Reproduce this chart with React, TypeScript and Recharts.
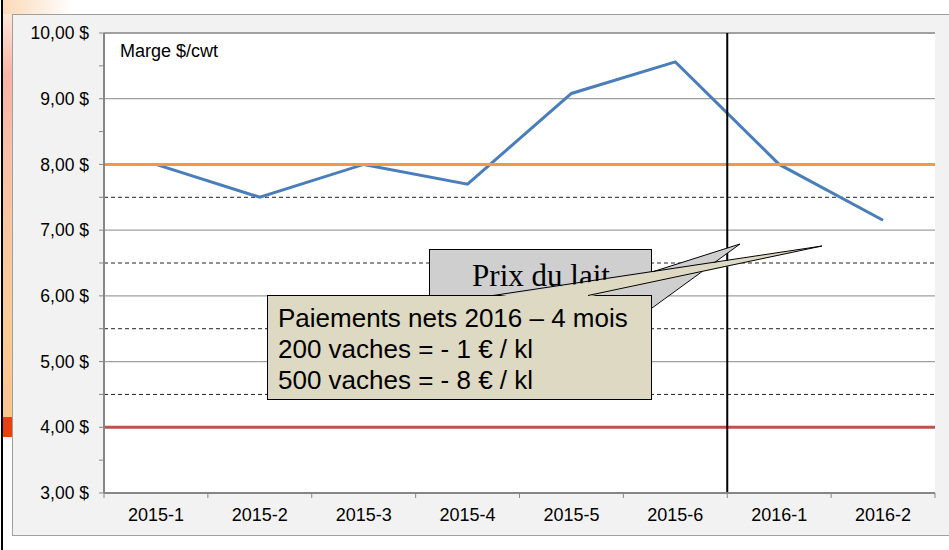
import React from "react";
import { CartesianGrid, Line, LineChart, ReferenceLine, XAxis, YAxis } from "recharts";

const categories = ["2015-1", "2015-2", "2015-3", "2015-4", "2015-5", "2015-6", "2016-1", "2016-2"];
const marge = [8.0, 7.5, 8.0, 7.7, 9.08, 9.56, 8.0, 7.15];
const yTicks = [3, 3.5, 4, 4.5, 5, 5.5, 6, 6.5, 7, 7.5, 8, 8.5, 9, 9.5, 10];
const gridLevels = [5, 6, 7, 9, 10];
const dashedLevels = [4.5, 5.5, 6.5, 7.5];
const orangeLevel = 8;
const redLevel = 4;
const splitAfter = "2015-6";
const calloutLines = ["Paiements nets 2016 – 4 mois", "200 vaches = - 1 € / kl", "500 vaches = - 8 € / kl"];

const data = categories.map((cat, i) => ({ cat, marge: marge[i] }));

const W = 949;
const H = 550;
const margin = { top: 33, right: 14, bottom: 27, left: 0 };
const yAxisWidth = 104;
const band = (W - margin.right - margin.left - yAxisWidth) / categories.length;
const font = "'Liberation Sans', Arial, sans-serif";

function CategoryTick(props: any) {
  const { x, y, payload, index } = props;
  const last = index === categories.length - 1;
  return (
    <g>
      <line x1={x - band / 2} x2={x - band / 2} y1={y} y2={y + 5} stroke="#868686" />
      {last && <line x1={x + band / 2} x2={x + band / 2} y1={y} y2={y + 5} stroke="#868686" />}
      <text x={x} y={y + 28} textAnchor="middle" fontSize={18} fontFamily={font} fill="#000">
        {payload.value}
      </text>
    </g>
  );
}

const fmt = (v: number) => (Number.isInteger(v) ? `${v.toFixed(2).replace(".", ",")} $` : "");

export default function App() {
  return (
    <div style={{ position: "absolute", left: 0, top: 0, width: W, height: H, background: "#fff", overflow: "hidden" }}>
      {/* slide decoration on the left */}
      <div style={{ position: "absolute", left: 1, top: 0, width: 2, height: H, background: "#000" }} />
      <div
        style={{
          position: "absolute", left: 3, top: 0, width: 9, height: 417,
          background: "linear-gradient(to bottom, #fff1e6 0%, #f7b4a4 18%, #f6c2a8 40%, #f8cc98 75%, #f9c58a 100%)",
        }}
      />
      <div style={{ position: "absolute", left: 3, top: 417, width: 9, height: 20, background: "#e8400f" }} />
      <div
        style={{
          position: "absolute", left: 3, top: 0, width: 70, height: 14,
          background: "linear-gradient(to right, #fbd9b8, #ffffff)",
        }}
      />
      {/* chart frame */}
      <div
        style={{
          position: "absolute", left: 12, top: 14, width: 945, height: 520,
          background: "#f2f2f2", border: "1px solid #a0a0a0",
        }}
      />
      <div style={{ position: "absolute", left: 0, top: 0 }}>
        <LineChart width={W} height={H} data={data} margin={margin}>
          <CartesianGrid horizontal={false} vertical={false} fill="#ffffff" />
          <XAxis
            dataKey="cat"
            scale="band"
            interval={0}
            height={30}
            tickSize={0}
            tickMargin={0}
            tickLine={false}
            tick={<CategoryTick />}
            axisLine={{ stroke: "#868686", strokeWidth: 2 }}
          />
          <YAxis
            type="number"
            domain={[3, 10]}
            ticks={yTicks}
            interval={0}
            width={yAxisWidth}
            tickFormatter={fmt}
            tickSize={5}
            tickMargin={10}
            tick={{ fontSize: 17.5, fontFamily: font, fill: "#000" }}
            tickLine={{ stroke: "#868686" }}
            axisLine={{ stroke: "#868686", strokeWidth: 2 }}
          />
          {gridLevels.map((v) => (
            <ReferenceLine key={`g${v}`} y={v} stroke="#a0a0a0" strokeWidth={v === 10 ? 2 : 1.2} />
          ))}
          {dashedLevels.map((v) => (
            <ReferenceLine key={`d${v}`} y={v} stroke="#222" strokeWidth={1} strokeDasharray="4 3" />
          ))}
          <Line
            type="linear"
            dataKey="marge"
            stroke="#4a7ebb"
            strokeWidth={3}
            dot={false}
            isAnimationActive={false}
          />
          <ReferenceLine y={orangeLevel} stroke="#f79646" strokeWidth={3} />
          <ReferenceLine y={redLevel} stroke="#c0504d" strokeWidth={3} />
          <ReferenceLine x={splitAfter} position="end" stroke="#000" strokeWidth={2} />
        </LineChart>
      </div>
      {/* annotations */}
      <svg width={W} height={H} style={{ position: "absolute", left: 0, top: 0, pointerEvents: "none" }}>
        <text x={120} y={57} fontSize={18} fontFamily={font} fill="#000">Marge $/cwt</text>
        <rect x={429.5} y={249.5} width={222} height={62} fill="#cfcfcf" stroke="#000" />
        <text x={541} y={286} textAnchor="middle" fontSize={31} fontFamily="'Liberation Serif', 'Times New Roman', serif" fill="#000">
          Prix du lait
        </text>
        <polygon points="651,272 740,244 651,308" fill="#cfcfcf" />
        <polyline points="652,272 740,244 652,308" fill="none" stroke="#000" />
        <rect x={267.5} y={295.5} width={384} height={104} fill="#ddd9c3" stroke="#000" />
        <polygon points="494,297 822,246 587,297" fill="#ddd9c3" />
        <polyline points="493,295.5 822,246 588,295.5" fill="none" stroke="#000" />
        {calloutLines.map((t, i) => (
          <text key={t} x={278} y={327 + i * 31} fontSize={26} fontFamily={font} fill="#000">
            {t}
          </text>
        ))}
      </svg>
    </div>
  );
}
